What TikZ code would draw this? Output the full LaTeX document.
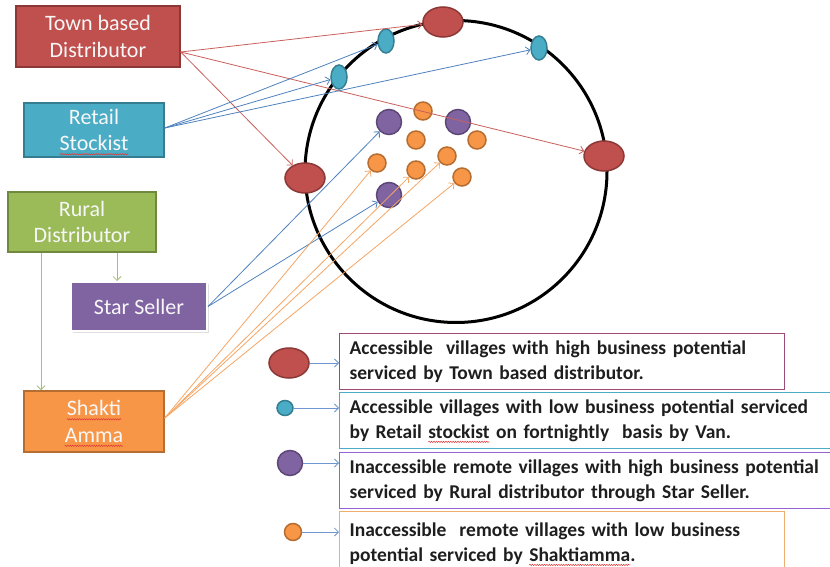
\documentclass[tikz,border=0pt]{standalone}
\usepackage{fontspec}
\setmainfont{Carlito}
\usetikzlibrary{arrows.meta,shapes.geometric,shadows,decorations.pathmorphing}

\definecolor{redFill}{HTML}{C0504D}
\definecolor{redEdge}{HTML}{8C3836}
\definecolor{blueFill}{HTML}{4BACC6}
\definecolor{blueEdge}{HTML}{357D91}
\definecolor{greenFill}{HTML}{9BBB59}
\definecolor{greenEdge}{HTML}{71893F}
\definecolor{purpleFill}{HTML}{8064A2}
\definecolor{purpleEdge}{HTML}{5C4776}
\definecolor{orangeFill}{HTML}{F79646}
\definecolor{orangeEdge}{HTML}{B66D31}
\definecolor{srctext}{HTML}{F7F7F7}
\definecolor{keytext}{HTML}{1E1E1E}
\definecolor{spellred}{HTML}{E03A3A}
\definecolor{redLink}{HTML}{C95F5C}
\definecolor{blueLink}{HTML}{4F81BD}
\definecolor{orangeLink}{HTML}{F5A564}
\definecolor{greenLink}{HTML}{A7BE7A}
\definecolor{keyLink}{HTML}{6D97CE}
\definecolor{keyEdgeA}{HTML}{9E4A78}
\definecolor{keyEdgeB}{HTML}{4BACC6}
\definecolor{keyEdgeC}{HTML}{9463D2}
\definecolor{keyEdgeD}{HTML}{F0AE6E}

% red wavy underline under a word
\newsavebox\wavebox
\newcommand\spellwave[1]{\sbox\wavebox{#1}%
  \tikz[baseline=0pt,x=1pt,y=1pt]{\useasboundingbox (0,0);
    \draw[spellred, line width=0.5pt, decorate,
      decoration={snake, amplitude=0.7pt, segment length=2.4pt}]
      (0pt,-3.5pt) -- (\the\wd\wavebox,-3.5pt);}%
  \usebox\wavebox}

\tikzset{
  src/.style={draw, line width=1.5pt, text=srctext, align=center, inner sep=0pt,
    font=\fontsize{22}{26.5}\selectfont},
  bigdot/.style={ellipse, draw=redEdge, fill=redFill, line width=1.5pt,
    minimum width=40pt, minimum height=30pt, inner sep=0pt},
  lowdot/.style={ellipse, draw=blueEdge, fill=blueFill, line width=1.5pt,
    minimum width=16pt, minimum height=24pt, inner sep=0pt},
  remdot/.style={circle, draw=purpleEdge, fill=purpleFill, line width=1.5pt,
    minimum size=25pt, inner sep=0pt},
  smalldot/.style={circle, draw=orangeEdge, fill=orangeFill, line width=1.5pt,
    minimum size=18pt, inner sep=0pt},
  link/.style={line width=0.8pt, -{Straight Barb[length=4pt,width=8pt]}},
  keybox/.style={draw, line width=1.3pt, align=left, inner xsep=10pt, inner ysep=0pt,
    text=keytext, font=\bfseries\fontsize{19.5}{25}\selectfont, anchor=north west,
    minimum height=56pt},
}

\begin{document}
\begin{tikzpicture}[x=1pt,y=-1pt]
\useasboundingbox (0,0) rectangle (830,567);

% channel boxes
\node[src, fill=redFill, draw=redEdge, minimum width=164pt, minimum height=61pt]
  (town) at (98,36.5) {Town based\\Distributor};
\node[src, fill=blueFill, draw=blueEdge, minimum width=140pt, minimum height=54pt]
  (retail) at (94,130) {Retail\\\spellwave{Stockist}};
\node[src, fill=greenFill, draw=greenEdge, minimum width=148pt, minimum height=60pt]
  (rural) at (82,222) {Rural\\Distributor};
\node[src, fill=purpleFill, draw=white, line width=2pt, minimum width=136pt, minimum height=49pt,
  drop shadow={opacity=0.25, shadow xshift=1.5pt, shadow yshift=-1.5pt}]
  (star) at (139,306.5) {Star Seller};
\node[src, fill=orangeFill, draw=orangeEdge, minimum width=140pt, minimum height=61pt]
  (shakti) at (94,421.5) {\spellwave{Shakti}\\\spellwave{Amma}};

% market area
\draw[line width=3pt] (456,171.5) circle[radius=151pt];

% accessible, high potential
\node[bigdot] (r1) at (443,22) {};
\node[bigdot] (r2) at (305,178) {};
\node[bigdot] (r3) at (604,156) {};
% accessible, low potential
\node[lowdot] (b1) at (386,41) {};
\node[lowdot] (b2) at (339,77) {};
\node[lowdot] (b3) at (539,48) {};
% remote, high potential
\node[remdot] (p1) at (389,122) {};
\node[remdot] (p2) at (458,122) {};
\node[remdot] (p3) at (389,195) {};
% remote, low potential
\node[smalldot] (o1) at (423,111) {};
\node[smalldot] (o2) at (416,140) {};
\node[smalldot] (o3) at (477,140) {};
\node[smalldot] (o4) at (377,163) {};
\node[smalldot] (o5) at (447,156) {};
\node[smalldot] (o6) at (416,170) {};
\node[smalldot] (o7) at (462,177) {};

% supply links
\coordinate (townOut) at ([yshift=-15.5pt]town.east);
\coordinate (retailOut) at ([yshift=2pt]retail.east);
\coordinate (shaktiOut) at ([yshift=3.5pt]shakti.east);

\draw[link, redLink] (townOut) -- (r1);
\draw[link, redLink] (townOut) -- (r2);
\draw[link, redLink] (townOut) -- (r3);

\draw[link, blueLink] (retailOut) -- (b1);
\draw[link, blueLink] (retailOut) -- (b2);
\draw[link, blueLink] (retailOut) -- (b3);

\draw[link, blueLink] (star.east) -- (p1);
\draw[link, blueLink] (star.east) -- (p3);

\draw[link, orangeLink] (shaktiOut) -- (o4);
\draw[link, orangeLink] (shaktiOut) -- (o6);
\draw[link, orangeLink] (shaktiOut) -- (o5);
\draw[link, orangeLink] (shaktiOut) -- (o7);

\draw[link, greenLink] ([xshift=35pt]rural.south) -- ([xshift=35pt]rural.south |- star.north);
\draw[link, greenLink] ([xshift=-41pt]rural.south) -- ([xshift=-41pt]rural.south |- shakti.north);

% legend
\node[keybox, draw=keyEdgeA, text width=425pt] (key1) at (339,333)
  {Accessible\ \ villages with high business potential\\serviced by Town based distributor.};
\node[keybox, draw=keyEdgeB, text width=481pt] (key2) at (339,392)
  {Accessible villages with low business potential serviced\\by Retail \spellwave{stockist} on fortnightly\ \ basis by Van.};
\node[keybox, draw=keyEdgeC, text width=481pt] (key3) at (339,452)
  {Inaccessible remote villages with high business potential\\serviced by Rural distributor through Star Seller.};
\node[keybox, draw=keyEdgeD, text width=425pt, minimum height=64pt] (key4) at (339,511)
  {Inaccessible\ \ remote villages with low business\\potential serviced by \spellwave{Shaktiamma}.};

\node[bigdot] (kr) at (289,363) {};
\node[lowdot, minimum width=16pt, minimum height=15pt] (kb) at (285,408) {};
\node[remdot] (kp) at (290,463) {};
\node[smalldot, minimum size=17pt] (ko) at (293,532) {};

\draw[link, keyLink] (kr) -- (kr -| key1.west);
\draw[link, keyLink] (kb) -- (kb -| key2.west);
\draw[link, keyLink] (kp) -- (kp -| key3.west);
\draw[link, keyLink] (ko) -- (ko -| key4.west);
\end{tikzpicture}
\end{document}
